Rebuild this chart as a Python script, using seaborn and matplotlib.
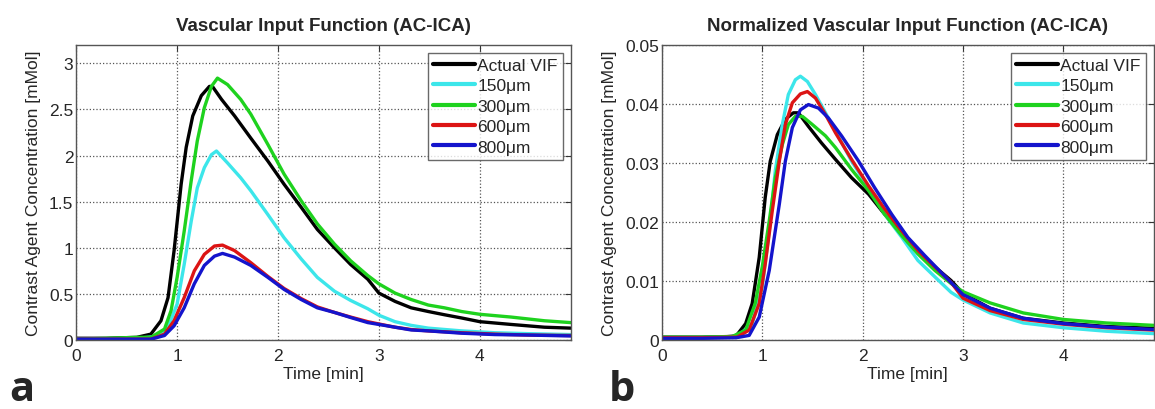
import numpy as np
import pandas as pd
import seaborn as sns
import matplotlib.pyplot as plt

# ---- panel a: absolute VIF [mMol] ----
t_actual_a = [0, 0.3, 0.6, 0.74, 0.84, 0.91, 0.97, 1.04, 1.09, 1.155, 1.24, 1.32, 1.35, 1.44, 1.57, 1.73, 1.90,
              2.06, 2.23, 2.39, 2.56, 2.72, 2.89, 3.0, 3.16, 3.32, 3.49, 3.65, 3.82, 4.0, 4.31, 4.64, 4.9]
c_actual_a = [0.02, 0.02, 0.03, 0.065, 0.21, 0.46, 0.97, 1.69, 2.09, 2.43, 2.65, 2.75, 2.75, 2.61, 2.43, 2.19, 1.94,
              1.69, 1.44, 1.20, 1.00, 0.82, 0.66, 0.51, 0.42, 0.35, 0.31, 0.275, 0.24, 0.20, 0.17, 0.14, 0.13]

t_150_a = [0, 0.5, 0.8, 0.91, 1.0, 1.07, 1.14, 1.2, 1.27, 1.34, 1.39, 1.50, 1.63, 1.73, 1.90, 2.06, 2.23, 2.39,
           2.56, 2.72, 2.89, 3.0, 3.16, 3.32, 3.49, 3.82, 4.15, 4.48, 4.9]
c_150_a = [0.01, 0.01, 0.04, 0.14, 0.39, 0.82, 1.29, 1.65, 1.87, 2.01, 2.05, 1.92, 1.76, 1.62, 1.36, 1.11, 0.88, 0.68,
           0.53, 0.43, 0.34, 0.27, 0.20, 0.16, 0.13, 0.10, 0.08, 0.07, 0.06]

t_300_a = [0, 0.3, 0.6, 0.74, 0.875, 0.94, 1.0, 1.07, 1.14, 1.2, 1.27, 1.34, 1.40, 1.50, 1.63, 1.73, 1.90, 2.06,
           2.23, 2.39, 2.56, 2.72, 2.89, 3.0, 3.16, 3.32, 3.49, 3.65, 3.82, 4.0, 4.31, 4.64, 4.9]
c_300_a = [0.01, 0.02, 0.03, 0.03, 0.12, 0.32, 0.68, 1.18, 1.73, 2.16, 2.52, 2.75, 2.84, 2.77, 2.61, 2.45, 2.12, 1.80,
           1.51, 1.26, 1.04, 0.86, 0.70, 0.61, 0.51, 0.44, 0.38, 0.35, 0.31, 0.28, 0.25, 0.21, 0.19]

t_600_a = [0, 0.5, 0.74, 0.875, 0.97, 1.07, 1.17, 1.27, 1.37, 1.45, 1.57, 1.73, 1.90, 2.06, 2.23, 2.39, 2.56,
           2.72, 2.89, 3.0, 3.16, 3.32, 3.49, 3.82, 4.15, 4.48, 4.9]
c_600_a = [0.01, 0.01, 0.01, 0.065, 0.21, 0.46, 0.75, 0.93, 1.02, 1.03, 0.97, 0.84, 0.69, 0.56, 0.45, 0.36, 0.30,
           0.25, 0.20, 0.175, 0.14, 0.115, 0.10, 0.08, 0.065, 0.055, 0.05]

t_800_a = [0, 0.5, 0.74, 0.875, 0.97, 1.07, 1.17, 1.27, 1.37, 1.45, 1.57, 1.73, 1.90, 2.06, 2.23, 2.39, 2.56,
           2.72, 2.89, 3.0, 3.16, 3.32, 3.49, 3.82, 4.15, 4.48, 4.9]
c_800_a = [0.01, 0.01, 0.01, 0.05, 0.155, 0.35, 0.61, 0.81, 0.91, 0.94, 0.90, 0.81, 0.68, 0.55, 0.44, 0.35, 0.30,
           0.245, 0.19, 0.17, 0.14, 0.11, 0.10, 0.075, 0.06, 0.055, 0.045]

# ---- panel b: normalized VIF ----
t_actual_b = [0, 0.4, 0.65, 0.74, 0.835, 0.90, 0.97, 1.03, 1.08, 1.15, 1.23, 1.31, 1.36, 1.46, 1.59, 1.73, 1.89,
              2.06, 2.22, 2.39, 2.55, 2.72, 2.88, 3.0, 3.27, 3.6, 4.0, 4.43, 4.9]
c_actual_b = [0.0005, 0.0005, 0.0006, 0.0007, 0.0028, 0.0062, 0.0140, 0.0242, 0.0303, 0.0348, 0.0374, 0.0385,
              0.0385, 0.0362, 0.0334, 0.0306, 0.0275, 0.0247, 0.0213, 0.0180, 0.0152, 0.0124, 0.0101, 0.0079,
              0.0054, 0.0037, 0.0029, 0.0023, 0.0020]

t_150_b = [0, 0.4, 0.75, 0.90, 1.0, 1.07, 1.13, 1.20, 1.26, 1.33, 1.38, 1.45, 1.53, 1.63, 1.73, 1.89, 2.06, 2.22,
           2.39, 2.55, 2.72, 2.88, 3.0, 3.27, 3.6, 4.0, 4.43, 4.9]
c_150_b = [0.0004, 0.0004, 0.0006, 0.0028, 0.0090, 0.0185, 0.0287, 0.0365, 0.0416, 0.0441, 0.0447, 0.0438, 0.0416,
           0.0385, 0.0354, 0.0303, 0.0258, 0.0213, 0.0174, 0.0135, 0.0107, 0.0081, 0.0068, 0.0046, 0.0029,
           0.0021, 0.0015, 0.0011]

t_300_b = [0, 0.4, 0.7, 0.835, 0.93, 1.0, 1.07, 1.13, 1.20, 1.26, 1.33, 1.40, 1.50, 1.63, 1.73, 1.89, 2.06, 2.22,
           2.39, 2.55, 2.72, 2.88, 3.0, 3.27, 3.6, 4.0, 4.43, 4.9]
c_300_b = [0.0005, 0.0005, 0.0006, 0.0017, 0.0062, 0.0124, 0.0202, 0.0275, 0.0331, 0.0365, 0.0379, 0.0379, 0.0365,
           0.0346, 0.0326, 0.0289, 0.0253, 0.0213, 0.0177, 0.0146, 0.0118, 0.0096, 0.0082, 0.0063, 0.0046,
           0.0035, 0.0029, 0.0025]

t_600_b = [0, 0.4, 0.75, 0.87, 0.97, 1.03, 1.10, 1.17, 1.23, 1.30, 1.38, 1.45, 1.53, 1.63, 1.73, 1.89, 2.06, 2.22,
           2.39, 2.55, 2.72, 2.88, 3.0, 3.27, 3.6, 4.0, 4.43, 4.9]
c_600_b = [0.0004, 0.0004, 0.0005, 0.0017, 0.0062, 0.0129, 0.0219, 0.0303, 0.0365, 0.0402, 0.0417, 0.0421, 0.0410,
           0.0382, 0.0351, 0.0306, 0.0261, 0.0222, 0.0185, 0.0152, 0.0124, 0.0098, 0.0071, 0.0050, 0.0035,
           0.0027, 0.0021, 0.0017]

t_800_b = [0, 0.4, 0.74, 0.87, 0.97, 1.07, 1.17, 1.23, 1.30, 1.38, 1.46, 1.56, 1.66, 1.79, 1.96, 2.12, 2.29, 2.45,
           2.62, 2.78, 3.0, 3.27, 3.6, 4.0, 4.43, 4.9]
c_800_b = [0.0003, 0.0003, 0.0004, 0.0008, 0.0039, 0.0118, 0.0230, 0.0303, 0.0360, 0.0390, 0.0399, 0.0393, 0.0376,
           0.0346, 0.0303, 0.0258, 0.0213, 0.0174, 0.0143, 0.0115, 0.0077, 0.0054, 0.0037, 0.0028, 0.0022, 0.0018]

labels = ["Actual VIF", "150\u03bcm", "300\u03bcm", "600\u03bcm", "800\u03bcm"]
colors = ["#000000", "#3ce6ea", "#1ed21e", "#dc1414", "#1414cc"]


def to_long(series):
    frames = []
    for lab, (t, c) in zip(labels, series):
        frames.append(pd.DataFrame({"time": t, "conc": c, "curve": lab}))
    return pd.concat(frames, ignore_index=True)


df_a = to_long([(t_actual_a, c_actual_a), (t_150_a, c_150_a), (t_300_a, c_300_a),
                (t_600_a, c_600_a), (t_800_a, c_800_a)])
df_b = to_long([(t_actual_b, c_actual_b), (t_150_b, c_150_b), (t_300_b, c_300_b),
                (t_600_b, c_600_b), (t_800_b, c_800_b)])

sns.set_style("white")
plt.rcParams['font.family'] = ['Liberation Sans', 'DejaVu Sans']

fig = plt.figure(figsize=(11.55, 4.1), dpi=100)
ax_a = fig.add_axes([0.066, 0.168, 0.428, 0.720])
ax_b = fig.add_axes([0.573, 0.168, 0.426, 0.720])

panels = [
    (ax_a, df_a, "Vascular Input Function (AC-ICA)", (0, 3.2), [0, 0.5, 1, 1.5, 2, 2.5, 3]),
    (ax_b, df_b, "Normalized Vascular Input Function (AC-ICA)", (0, 0.05), [0, 0.01, 0.02, 0.03, 0.04, 0.05]),
]

for ax, df, title, ylim, yticks in panels:
    sns.lineplot(data=df, x="time", y="conc", hue="curve", palette=colors, hue_order=labels,
                 sort=False, estimator=None, linewidth=2.4, ax=ax)
    ax.set_xlim(0, 4.9)
    ax.set_ylim(*ylim)
    ax.set_xticks([0, 1, 2, 3, 4])
    ax.set_yticks(yticks)
    ax.set_yticklabels([f"{v:g}" for v in yticks])
    ax.grid(True, linestyle=":", color="#555555", linewidth=0.9)
    ax.tick_params(direction="in", length=4, top=True, right=True, labelsize=12.5, pad=2, color="#333333")
    ax.tick_params(axis="x", pad=6)
    for sp in ax.spines.values():
        sp.set_color("#555555")
        sp.set_linewidth(1.0)
    ax.set_title(title, fontsize=13.5, fontweight="bold", pad=11)
    ax.set_xlabel("Time [min]", fontsize=12.5, labelpad=2)
    ax.set_ylabel("Contrast Agent Concentration [mMol]", fontsize=12.5, labelpad=6)
    leg = ax.legend(loc="upper right", fontsize=12.5, frameon=True, fancybox=False, handlelength=2.4,
                    handletextpad=0.15, labelspacing=0.3, borderpad=0.3, borderaxespad=0.45)
    leg.get_frame().set_edgecolor("#444444")
    leg.get_frame().set_linewidth(1.0)
    for line in leg.get_lines():
        line.set_linewidth(3.0)

fig.text(0.008, 0.022, "a", fontsize=30, fontweight="bold", family=["Open Sans", "DejaVu Sans"])
fig.text(0.527, 0.022, "b", fontsize=30, fontweight="bold", family=["Open Sans", "DejaVu Sans"])

fig.savefig("out.png", dpi=100)
